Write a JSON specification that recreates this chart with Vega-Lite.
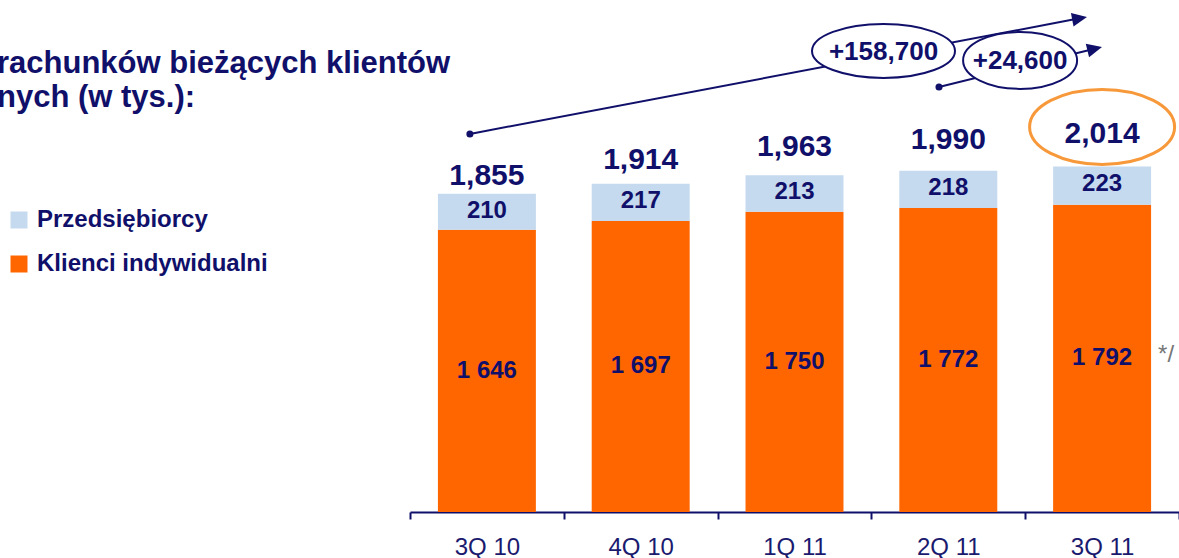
{
  "$schema": "https://vega.github.io/schema/vega-lite/v6.json",
  "width": 769,
  "height": 512,
  "autosize": {"type": "none"},
  "padding": {"left": 410, "top": 0, "right": 0, "bottom": 46},
  "background": "white",
  "title": {
    "text": ["rachunków bieżących klientów", "nych (w tys.):"],
    "anchor": "start",
    "frame": "group",
    "orient": "top",
    "offset": 0,
    "dx": -413,
    "dy": 145,
    "font": "Liberation Sans",
    "fontSize": 31,
    "fontWeight": "bold",
    "color": "#10106a",
    "lineHeight": 34,
    "baseline": "bottom"
  },
  "datasets": {
    "accounts": [
      {"quarter": "3Q 10", "Klienci indywidualni": 1646, "Przedsiębiorcy": 210, "total": 1855, "label": "1 646"},
      {"quarter": "4Q 10", "Klienci indywidualni": 1697, "Przedsiębiorcy": 217, "total": 1914, "label": "1 697"},
      {"quarter": "1Q 11", "Klienci indywidualni": 1750, "Przedsiębiorcy": 213, "total": 1963, "label": "1 750"},
      {"quarter": "2Q 11", "Klienci indywidualni": 1772, "Przedsiębiorcy": 218, "total": 1990, "label": "1 772"},
      {"quarter": "3Q 11", "Klienci indywidualni": 1792, "Przedsiębiorcy": 223, "total": 2014, "label": "1 792"}
    ]
  },
  "config": {
    "view": {"stroke": null},
    "font": "Liberation Sans",
    "axisX": {
      "labelAngle": 0, "tickBand": "extent", "grid": false,
      "domainColor": "#10106a", "domainWidth": 2,
      "tickColor": "#10106a", "tickWidth": 2, "tickSize": 7,
      "labelFont": "Liberation Sans", "labelFontSize": 24, "labelColor": "#1a1a6e",
      "labelBaseline": "alphabetic", "labelPadding": 35
    }
  },
  "resolve": {"scale": {"y": "independent"}},
  "layer": [
    {
      "data": {"name": "accounts"},
      "transform": [{"fold": ["Klienci indywidualni", "Przedsiębiorcy"], "as": ["segment", "value"]}],
      "mark": {"type": "bar", "width": {"band": 0.637}},
      "encoding": {
        "x": {
          "field": "quarter", "type": "nominal", "sort": null,
          "scale": {"domain": ["3Q 10", "4Q 10", "1Q 11", "2Q 11", "3Q 11"], "paddingInner": 0, "paddingOuter": 0},
          "axis": {"title": null}
        },
        "y": {"field": "value", "type": "quantitative", "stack": "zero", "scale": {"domain": [0, 2985]}, "axis": null},
        "color": {
          "field": "segment", "type": "nominal",
          "scale": {"domain": ["Przedsiębiorcy", "Klienci indywidualni"], "range": ["#C5DAEE", "#FF6600"]},
          "legend": {
            "title": null, "orient": "none", "legendX": -403, "legendY": 208,
            "symbolType": "square", "symbolSize": 289, "symbolStrokeWidth": 0,
            "labelFont": "Liberation Sans", "labelFontSize": 24, "labelFontWeight": "bold",
            "labelColor": "#10106a", "labelOffset": 6, "labelLimit": 400, "rowPadding": 20, "padding": 0, "offset": 0
          }
        },
        "order": {"field": "segment", "sort": "ascending"}
      }
    },
    {
      "data": {"name": "accounts"},
      "mark": {"type": "text", "font": "Liberation Sans", "fontSize": 24, "fontWeight": "bold", "fill": "#10106a", "baseline": "middle", "dy": 17},
      "encoding": {
        "x": {"field": "quarter", "type": "nominal", "axis": {"title": null}},
        "y": {"field": "total", "type": "quantitative", "scale": {"domain": [0, 2985]}, "axis": null},
        "text": {"field": "Przedsiębiorcy", "type": "quantitative"}
      }
    },
    {
      "data": {"name": "accounts"},
      "mark": {"type": "text", "font": "Liberation Sans", "fontSize": 24, "fontWeight": "bold", "fill": "#10106a", "baseline": "middle"},
      "encoding": {
        "x": {"field": "quarter", "type": "nominal", "axis": {"title": null}},
        "y": {"field": "Klienci indywidualni", "type": "quantitative", "scale": {"domain": [0, 5970]}, "axis": null},
        "text": {"field": "label", "type": "nominal"}
      }
    },
    {
      "data": {"name": "accounts"},
      "mark": {"type": "text", "font": "Liberation Sans", "fontSize": 30, "fontWeight": "bold", "fill": "#10106a", "baseline": "alphabetic"},
      "encoding": {
        "x": {"field": "quarter", "type": "nominal", "axis": {"title": null}},
        "y": {"field": "total", "type": "quantitative", "scale": {"domain": [616, 2555], "zero": false}, "axis": null},
        "text": {"field": "total", "type": "quantitative", "format": ","}
      }
    },
    {
      "data": {"values": [{}]},
      "mark": {"type": "rule", "stroke": "#10106a", "strokeWidth": 2, "xOffset": -17, "x2Offset": -22.5},
      "encoding": {
        "x": {"datum": "3Q 10", "type": "nominal", "axis": {"title": null}},
        "x2": {"datum": "3Q 11"},
        "y": {"datum": 2204, "type": "quantitative", "scale": {"domain": [0, 2985]}, "axis": null},
        "y2": {"datum": 2878}
      }
    },
    {
      "data": {"values": [{}]},
      "mark": {"type": "rule", "stroke": "#10106a", "strokeWidth": 2, "xOffset": -9.3, "x2Offset": -7.4},
      "encoding": {
        "x": {"datum": "2Q 11", "type": "nominal", "axis": {"title": null}},
        "x2": {"datum": "3Q 11"},
        "y": {"datum": 2478, "type": "quantitative", "scale": {"domain": [0, 2985]}, "axis": null},
        "y2": {"datum": 2701}
      }
    },
    {
      "data": {"values": [{}]},
      "mark": {"type": "point", "shape": "circle", "filled": true, "fill": "#10106a", "opacity": 1, "size": 50, "xOffset": -17},
      "encoding": {
        "x": {"datum": "3Q 10", "type": "nominal", "axis": {"title": null}},
        "y": {"datum": 2204, "type": "quantitative", "scale": {"domain": [0, 2985]}, "axis": null}
      }
    },
    {
      "data": {"values": [{}]},
      "mark": {"type": "point", "shape": "circle", "filled": true, "fill": "#10106a", "opacity": 1, "size": 50, "xOffset": -9.3},
      "encoding": {
        "x": {"datum": "2Q 11", "type": "nominal", "axis": {"title": null}},
        "y": {"datum": 2478, "type": "quantitative", "scale": {"domain": [0, 2985]}, "axis": null}
      }
    },
    {
      "data": {"values": [{}]},
      "mark": {"type": "point", "shape": "M 1 0 L -1 -0.93 L -1 0.93 Z", "filled": true, "fill": "#10106a", "opacity": 1, "size": 225, "angle": -10.7, "xOffset": -22.5},
      "encoding": {
        "x": {"datum": "3Q 11", "type": "nominal", "axis": {"title": null}},
        "y": {"datum": 2878, "type": "quantitative", "scale": {"domain": [0, 2985]}, "axis": null}
      }
    },
    {
      "data": {"values": [{}]},
      "mark": {"type": "point", "shape": "M 1 0 L -1 -0.93 L -1 0.93 Z", "filled": true, "fill": "#10106a", "opacity": 1, "size": 225, "angle": -13.8, "xOffset": -7.4},
      "encoding": {
        "x": {"datum": "3Q 11", "type": "nominal", "axis": {"title": null}},
        "y": {"datum": 2701, "type": "quantitative", "scale": {"domain": [0, 2985]}, "axis": null}
      }
    },
    {
      "data": {"values": [{}]},
      "mark": {"type": "point", "shape": "M -1 0 C -1 -0.209 -0.5523 -0.378 0 -0.378 C 0.5523 -0.378 1 -0.209 1 0 C 1 0.209 0.5523 0.378 0 0.378 C -0.5523 0.378 -1 0.209 -1 0 Z", "filled": true, "fill": "white", "stroke": "#10106a", "strokeWidth": 2, "opacity": 1, "size": 20449, "xOffset": -64.8},
      "encoding": {
        "x": {"datum": "2Q 11", "type": "nominal", "axis": {"title": null}},
        "y": {"datum": 2688, "type": "quantitative", "scale": {"domain": [0, 2985]}, "axis": null}
      }
    },
    {
      "data": {"values": [{}]},
      "mark": {"type": "point", "shape": "M -1 0 C -1 -0.276 -0.5523 -0.5 0 -0.5 C 0.5523 -0.5 1 -0.276 1 0 C 1 0.276 0.5523 0.5 0 0.5 C -0.5523 0.5 -1 0.276 -1 0 Z", "filled": true, "fill": "white", "stroke": "#10106a", "strokeWidth": 2, "opacity": 1, "size": 12996, "xOffset": -82},
      "encoding": {
        "x": {"datum": "3Q 11", "type": "nominal", "axis": {"title": null}},
        "y": {"datum": 2633, "type": "quantitative", "scale": {"domain": [0, 2985]}, "axis": null}
      }
    },
    {
      "data": {"values": [{}]},
      "mark": {"type": "text", "text": "+158,700", "font": "Liberation Sans", "fontSize": 26, "fontWeight": "bold", "fill": "#10106a", "baseline": "middle", "dy": 1, "xOffset": -64.8},
      "encoding": {
        "x": {"datum": "2Q 11", "type": "nominal", "axis": {"title": null}},
        "y": {"datum": 2688, "type": "quantitative", "scale": {"domain": [0, 2985]}, "axis": null}
      }
    },
    {
      "data": {"values": [{}]},
      "mark": {"type": "text", "text": "+24,600", "font": "Liberation Sans", "fontSize": 26, "fontWeight": "bold", "fill": "#10106a", "baseline": "middle", "dy": 1, "xOffset": -82},
      "encoding": {
        "x": {"datum": "3Q 11", "type": "nominal", "axis": {"title": null}},
        "y": {"datum": 2633, "type": "quantitative", "scale": {"domain": [0, 2985]}, "axis": null}
      }
    },
    {
      "data": {"values": [{}]},
      "mark": {"type": "point", "shape": "M -1 0 C -1 -0.2855 -0.5523 -0.517 0 -0.517 C 0.5523 -0.517 1 -0.2855 1 0 C 1 0.2855 0.5523 0.517 0 0.517 C -0.5523 0.517 -1 0.2855 -1 0 Z", "filled": false, "stroke": "#F7993A", "strokeWidth": 3, "opacity": 1, "size": 21025},
      "encoding": {
        "x": {"datum": "3Q 11", "type": "nominal", "axis": {"title": null}},
        "y": {"datum": 2245, "type": "quantitative", "scale": {"domain": [0, 2985]}, "axis": null}
      }
    },
    {
      "data": {"values": [{}]},
      "mark": {"type": "text", "text": "*/", "font": "Liberation Sans", "fontSize": 24, "fill": "#777777", "baseline": "middle", "align": "left", "dx": 56},
      "encoding": {
        "x": {"datum": "3Q 11", "type": "nominal", "axis": {"title": null}},
        "y": {"datum": 915, "type": "quantitative", "scale": {"domain": [0, 2985]}, "axis": null}
      }
    }
  ]
}
